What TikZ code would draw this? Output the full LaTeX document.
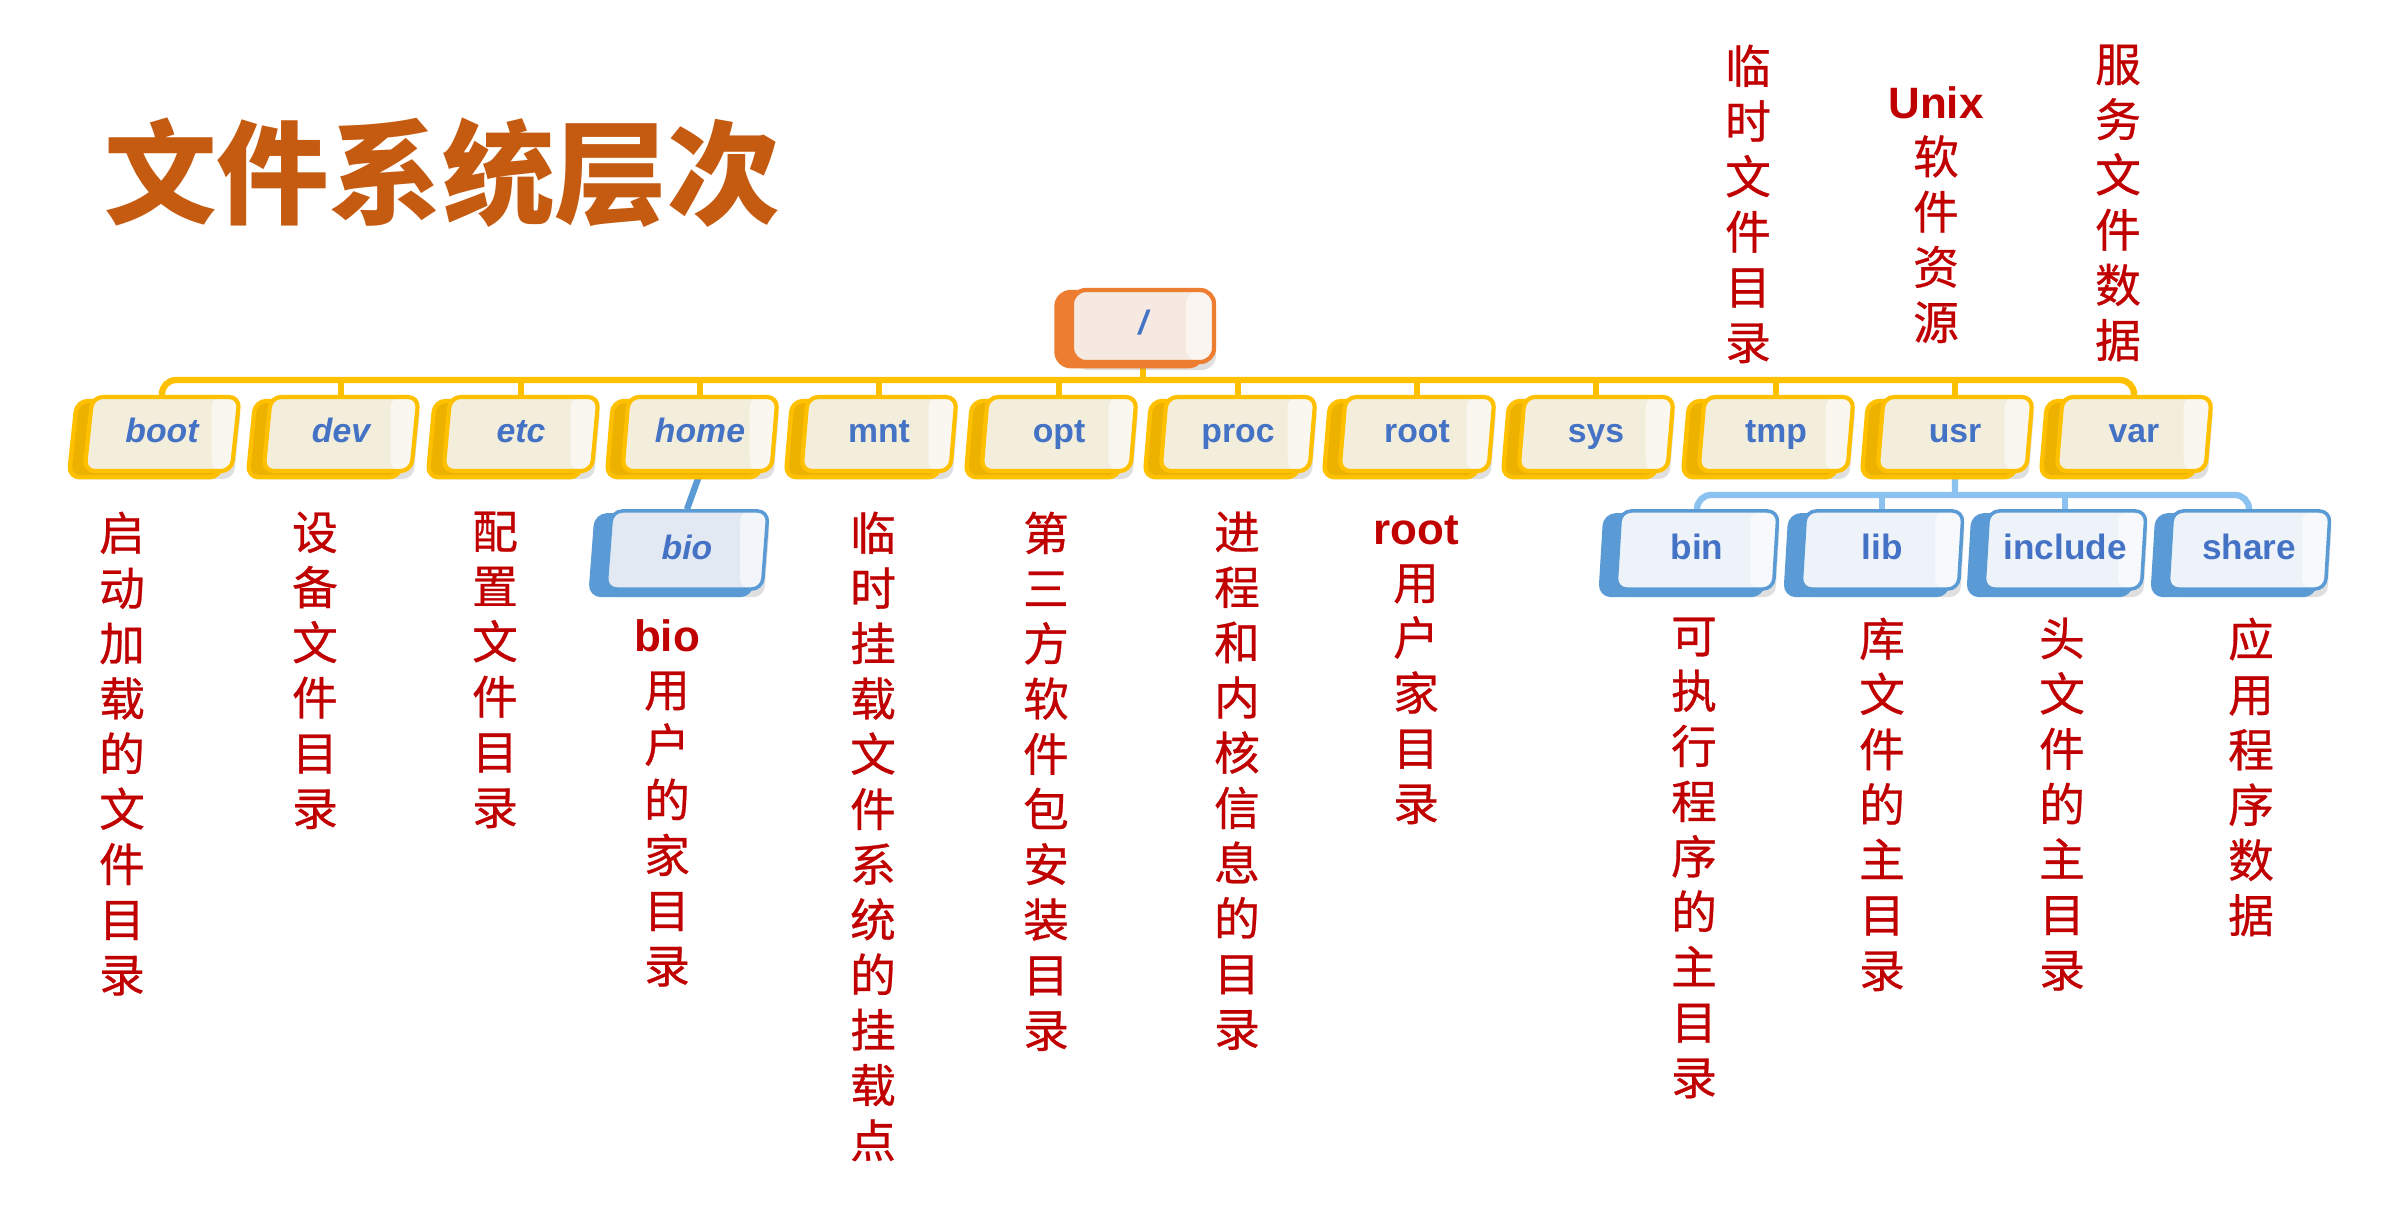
\documentclass[tikz,border=0pt]{standalone}
\usepackage{fontspec}
\setmainfont{Liberation Sans}
\newfontfamily\cjk{Noto Sans CJK SC}
\newfontfamily\cjknota{Noto Sans CJK SC}[FakeBold=0.6]
\usepackage{tikz}
\usetikzlibrary{shapes.geometric, shadows, backgrounds}

\definecolor{titolo}{HTML}{C55A11}
\definecolor{rosso}{HTML}{C00000}
\definecolor{testo}{HTML}{4472C4}
\definecolor{oro}{HTML}{FFC000}
\definecolor{orobuio}{HTML}{EDB200}
\definecolor{crema}{HTML}{F3EEDC}
\definecolor{arancio}{HTML}{ED7D31}
\definecolor{pesca}{HTML}{F5E9E1}
\definecolor{blu}{HTML}{5B9BD5}
\definecolor{celeste}{HTML}{8CC2F0}
\definecolor{ghiaccio}{HTML}{EEF3FA}
\definecolor{nebbia}{HTML}{E3E9F2}

\newcommand\parola[1]{{\rmfamily\bfseries\fontsize{12.5}{15.7}\selectfont #1}}

\begin{document}
\begin{tikzpicture}[x=0.01cm, y=-0.01cm,
    inclina/.code={\pgfmathsetmacro\angolodestro{180-#1}%
        \pgfkeysalso{trapezium left angle=#1, trapezium right angle=\angolodestro}},
    corsivo/.style={font=\bfseries\itshape\fontsize{9.6}{11}\selectfont},
    riflesso/.style={path picture={\fill[white, opacity=0.55]
        ([xshift=-0.28cm]path picture bounding box.north east)
        rectangle (path picture bounding box.south east);}},
    gialla/.style={trapezium, inclina=79, trapezium stretches body,
        minimum width=1.55cm, minimum height=0.74cm, text height=7pt, text depth=2pt,
        rounded corners=3pt, inner sep=0pt, draw=oro, line width=1.2pt, fill=crema,
        text=testo, font=\bfseries\fontsize{9.6}{11}\selectfont, riflesso,
        drop shadow={opacity=0.25, shadow xshift=0.02cm, shadow yshift=-0.08cm},
        copy shadow={shadow xshift=-0.13cm, shadow yshift=-0.05cm, shadow scale=1.03,
            fill=orobuio, draw=oro, line width=1.2pt}},
    azzurra/.style={trapezium, inclina=82, trapezium stretches body,
        minimum width=1.62cm, minimum height=0.78cm, text height=7.5pt, text depth=2pt,
        rounded corners=3pt, inner sep=0pt, draw=blu, line width=1pt, fill=ghiaccio,
        text=testo, font=\bfseries\fontsize{10}{12}\selectfont, riflesso,
        drop shadow={opacity=0.25, shadow xshift=0.02cm, shadow yshift=-0.08cm},
        copy shadow={shadow xshift=-0.13cm, shadow yshift=-0.05cm, shadow scale=1.03,
            fill=blu, draw=blu, line width=1pt}},
    radice/.style={rectangle, minimum width=1.42cm, minimum height=0.72cm,
        text height=7pt, text depth=2pt,
        rounded corners=4pt, inner sep=0pt, draw=arancio, line width=1.2pt, fill=pesca,
        text=testo, corsivo, riflesso,
        drop shadow={opacity=0.25, shadow xshift=0.02cm, shadow yshift=-0.08cm},
        copy shadow={shadow xshift=-0.13cm, shadow yshift=-0.03cm, shadow scale=1.03,
            fill=arancio, draw=arancio, line width=1.2pt}},
    ramo/.style={draw=oro, line width=1.8pt},
    ramoblu/.style={draw=celeste, line width=1.8pt},
    nota/.style={text=rosso, font=\cjknota\fontsize{13}{15.7}\selectfont, align=center,
        inner sep=0pt, anchor=north}]
    \useasboundingbox (0,0) rectangle (2388,1212);

    % titolo
    \node[text=titolo, font=\cjk\bfseries\fontsize{32}{36}\selectfont] (titolo) at (442,173) {文件系统层次};

    % radice
    \node[radice] (slash) at (1143,326) {/};

    % primo livello
    \node[gialla, inclina=76, corsivo] (boot) at (162,434) {boot};
    \node[gialla, inclina=77, corsivo] (dev) at (341,434) {dev};
    \node[gialla, inclina=78, corsivo] (etc) at (521,434) {etc};
    \node[gialla, corsivo] (home) at (700,434) {home};
    \node[gialla] (mnt) at (879,434) {mnt};
    \node[gialla] (opt) at (1059,434) {opt};
    \node[gialla] (proc) at (1238,434) {proc};
    \node[gialla] (rootdir) at (1417,434) {root};
    \node[gialla] (sys) at (1596,434) {sys};
    \node[gialla] (tmp) at (1776,434) {tmp};
    \node[gialla] (usr) at (1955,434) {usr};
    \node[gialla] (var) at (2134,434) {var};

    % secondo livello
    \node[azzurra, inclina=80, fill=nebbia, corsivo] (bio) at (687,550) {bio};
    \node[azzurra] (bin) at (1697,550) {bin};
    \node[azzurra] (lib) at (1882,550) {lib};
    \node[azzurra] (include) at (2065,550) {include};
    \node[azzurra] (share) at (2249,550) {share};

    % rami
    \coordinate (bus) at (1143,380);
    \coordinate (busu) at (1955,495);
    \begin{scope}[on background layer]
        \draw[ramo] (slash.south) -- (bus);
        \draw[ramo, rounded corners=4pt] (boot.north) |- (bus) -| (var.north);
        \draw[ramo] (dev.north) -- (dev.north |- bus) (etc.north) -- (etc.north |- bus)
            (home.north) -- (home.north |- bus) (mnt.north) -- (mnt.north |- bus)
            (opt.north) -- (opt.north |- bus) (proc.north) -- (proc.north |- bus)
            (rootdir.north) -- (rootdir.north |- bus) (sys.north) -- (sys.north |- bus)
            (tmp.north) -- (tmp.north |- bus) (usr.north) -- (usr.north |- bus);
        \draw[ramoblu, draw=blu] (home.south) -- (bio.north);
        \draw[ramoblu] (usr.south) -- (busu);
        \draw[ramoblu, rounded corners=4pt] (bin.north) |- (busu) -| (share.north);
        \draw[ramoblu] (lib.north) -- (lib.north |- busu) (include.north) -- (include.north |- busu);
    \end{scope}

    % note sotto
    \node[nota] (nboot) at (122,511) {启\\动\\加\\载\\的\\文\\件\\目\\录};
    \node[nota] (ndev) at (315,511) {设\\备\\文\\件\\目\\录};
    \node[nota] (netc) at (495,511) {配\\置\\文\\件\\目\\录};
    \node[nota] (nbio) at (667,619) {\parola{bio}\\用\\户\\的\\家\\目\\录};
    \node[nota] (nmnt) at (873,511) {临\\时\\挂\\载\\文\\件\\系\\统\\的\\挂\\载\\点};
    \node[nota] (nopt) at (1046,511) {第\\三\\方\\软\\件\\包\\安\\装\\目\\录};
    \node[nota] (nproc) at (1237,511) {进\\程\\和\\内\\核\\信\\息\\的\\目\\录};
    \node[nota] (nroot) at (1416,515) {\parola{root}\\用\\户\\家\\目\\录};
    \node[nota] (nbin) at (1694,617) {可\\执\\行\\程\\序\\的\\主\\目\\录};
    \node[nota] (nlib) at (1882,617) {库\\文\\件\\的\\主\\目\\录};
    \node[nota] (ninclude) at (2062,617) {头\\文\\件\\的\\主\\目\\录};
    \node[nota] (nshare) at (2251,617) {应\\用\\程\\序\\数\\据};

    % note sopra
    \node[nota] (ntmp) at (1748,44) {临\\时\\文\\件\\目\\录};
    \node[nota] (nusr) at (1936,86) {\parola{Unix}\\软\\件\\资\\源};
    \node[nota] (nvar) at (2118,44) {服\\务\\文\\件\\数\\据};
\end{tikzpicture}
\end{document}
